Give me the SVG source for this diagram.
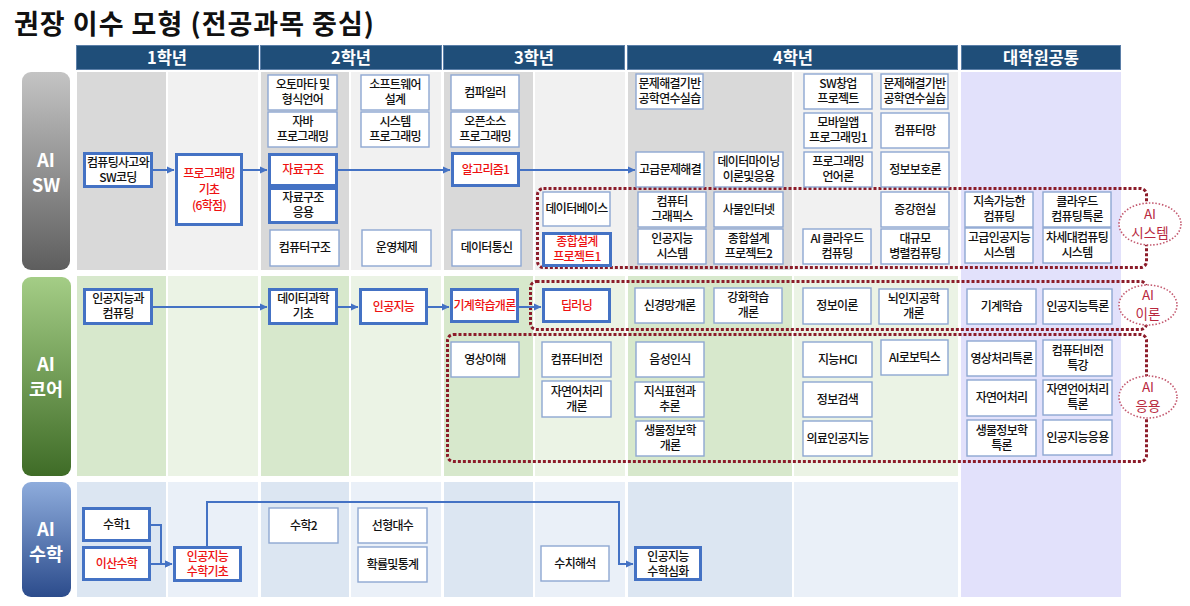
<svg xmlns="http://www.w3.org/2000/svg" width="1190" height="606" viewBox="0 0 1190 606">
<defs>
<linearGradient id="gSW" x1="0" y1="0" x2="0" y2="1"><stop offset="0" stop-color="#c4c4c4"/><stop offset="1" stop-color="#5e5e5e"/></linearGradient>
<linearGradient id="gCore" x1="0" y1="0" x2="0" y2="1"><stop offset="0" stop-color="#a4cd86"/><stop offset="1" stop-color="#3f6c27"/></linearGradient>
<linearGradient id="gMath" x1="0" y1="0" x2="0" y2="1"><stop offset="0" stop-color="#8eacdc"/><stop offset="1" stop-color="#2c4c8c"/></linearGradient>
<marker id="ah" markerWidth="8" markerHeight="8" refX="7" refY="4" orient="auto" markerUnits="userSpaceOnUse"><path d="M0,0.5 L7.5,4 L0,7.5 Z" fill="#4472c4"/></marker>
<style>
text{font-family:"Noto Sans CJK KR","Liberation Sans",sans-serif;}
.title{font-size:27px;font-weight:bold;fill:#111;letter-spacing:1px;}
.hd rect{fill:#1f4e79;stroke:#5b7fa8;stroke-width:1;}
.hd text{fill:#fff;font-size:16.5px;font-weight:bold;text-anchor:middle;}
.lab text{fill:#fff;font-size:18.5px;font-weight:bold;text-anchor:middle;}
.nd rect{fill:#fff;stroke:#8ea7d2;stroke-width:1.4;}
.nd.tk rect{stroke:#4472c4;stroke-width:3;}
.nd text{font-size:12px;font-weight:500;text-anchor:middle;fill:#111;letter-spacing:-0.7px;}
.nd.red text{fill:#ee1111;}
.cn path{fill:none;stroke:#4472c4;stroke-width:2;}
.grp rect{fill:none;stroke:#8c1c2a;stroke-width:3;stroke-dasharray:3 2;}
.grp ellipse{fill:#fff;stroke:#c45a70;stroke-width:1.6;stroke-dasharray:1.5 1.8;}
.grp text{fill:#b8283e;font-size:13.5px;text-anchor:middle;}
</style>
</defs>
<rect width="1190" height="606" fill="#fff"/>
<text class="title" x="14" y="34">권장 이수 모형 (전공과목 중심)</text>

<!-- backgrounds -->
<g id="bands">
<rect x="77" y="72" width="89" height="198" fill="#d9d9d9"/>
<rect x="168" y="72" width="90" height="198" fill="#f1f1f1"/>
<rect x="261" y="72" width="88" height="198" fill="#d9d9d9"/>
<rect x="351" y="72" width="90" height="198" fill="#f1f1f1"/>
<rect x="444" y="72" width="89" height="198" fill="#d9d9d9"/>
<rect x="535" y="72" width="90" height="198" fill="#f1f1f1"/>
<rect x="628" y="72" width="164" height="198" fill="#d9d9d9"/>
<rect x="794" y="72" width="164" height="198" fill="#f1f1f1"/>

<rect x="77" y="276" width="89" height="200" fill="#d7e8cc"/>
<rect x="168" y="276" width="90" height="200" fill="#ebf3e5"/>
<rect x="261" y="276" width="88" height="200" fill="#d7e8cc"/>
<rect x="351" y="276" width="90" height="200" fill="#ebf3e5"/>
<rect x="444" y="276" width="89" height="200" fill="#d7e8cc"/>
<rect x="535" y="276" width="90" height="200" fill="#ebf3e5"/>
<rect x="628" y="276" width="164" height="200" fill="#d7e8cc"/>
<rect x="794" y="276" width="164" height="200" fill="#ebf3e5"/>

<rect x="77" y="482" width="89" height="115" fill="#dce6f2"/>
<rect x="168" y="482" width="90" height="115" fill="#eaf0f8"/>
<rect x="261" y="482" width="88" height="115" fill="#dce6f2"/>
<rect x="351" y="482" width="90" height="115" fill="#eaf0f8"/>
<rect x="444" y="482" width="89" height="115" fill="#dce6f2"/>
<rect x="535" y="482" width="90" height="115" fill="#eaf0f8"/>
<rect x="628" y="482" width="164" height="115" fill="#dce6f2"/>
<rect x="794" y="482" width="164" height="115" fill="#eaf0f8"/>

<rect x="961" y="72" width="160" height="525" fill="#e2e1fb"/>
</g>

<!-- headers -->
<g id="header" class="hd">
<rect x="76.5" y="45.5" width="182" height="24"/><text x="167" y="63.5">1학년</text>
<rect x="260.5" y="45.5" width="181" height="24"/><text x="351" y="63.5">2학년</text>
<rect x="443.5" y="45.5" width="181" height="24"/><text x="534" y="63.5">3학년</text>
<rect x="627.5" y="45.5" width="330" height="24"/><text x="793" y="63.5">4학년</text>
<rect x="961.5" y="45.5" width="159" height="24"/><text x="1041" y="63.5">대학원공통</text>
</g>

<!-- row labels -->
<g id="lab-sw" class="lab"><rect x="22" y="72" width="48" height="198" rx="9" fill="url(#gSW)"/><text x="46" y="167">AI</text><text x="46" y="191.5">SW</text></g>
<g id="lab-core" class="lab"><rect x="22" y="277" width="49" height="199" rx="9" fill="url(#gCore)"/><text x="46" y="371">AI</text><text x="46" y="395.5">코어</text></g>
<g id="lab-math" class="lab"><rect x="22" y="482" width="49" height="115" rx="9" fill="url(#gMath)"/><text x="46" y="536">AI</text><text x="46" y="560.5">수학</text></g>

<!-- dotted groups -->
<g id="grp-sys" class="grp"><rect x="537.5" y="188.5" width="609" height="79" rx="6"/><ellipse cx="1150" cy="224" rx="31" ry="21"/><text x="1150" y="219">AI</text><text x="1150" y="237.5">시스템</text></g>
<g id="grp-theory" class="grp"><rect x="530.5" y="281.5" width="616" height="48" rx="6"/><ellipse cx="1148" cy="305" rx="29" ry="20"/><text x="1148" y="300">AI</text><text x="1148" y="318.5">이론</text></g>
<g id="grp-app" class="grp"><rect x="447.5" y="334.5" width="699" height="127" rx="6"/><ellipse cx="1148" cy="397" rx="29" ry="21"/><text x="1148" y="392">AI</text><text x="1148" y="410.5">응용</text></g>

<!-- connectors -->
<g id="connectors" class="cn">
<path d="M153,170 H174" marker-end="url(#ah)"/>
<path d="M243,170 H267" marker-end="url(#ah)"/>
<path d="M338,170 H450" marker-end="url(#ah)"/>
<path d="M520,170 H635" marker-end="url(#ah)"/>
<path d="M153,307 H267" marker-end="url(#ah)"/>
<path d="M338,307 H358" marker-end="url(#ah)"/>
<path d="M428,307 H449" marker-end="url(#ah)"/>
<path d="M519,307 H541" marker-end="url(#ah)"/>
<path d="M151,525 H161 V564 H172" stroke-width="1.6" marker-end="url(#ah)"/>
<path d="M151,564 H172" marker-end="url(#ah)"/>
<path d="M207,546 V502 H619 V564 H633" stroke-width="1.6" marker-end="url(#ah)"/>
</g>

<!-- AI SW nodes -->
<g id="n-ct" class="nd tk"><rect x="84.5" y="153.5" width="67" height="33"/><text><tspan x="118" y="166.5">컴퓨팅사고와</tspan><tspan x="118" y="181.5">SW코딩</tspan></text></g>
<g id="n-prog" class="nd tk red"><rect x="176.5" y="154.5" width="65" height="70"/><text><tspan x="209" y="178">프로그래밍</tspan><tspan x="209" y="194">기초</tspan><tspan x="209" y="210">(6학점)</tspan></text></g>
<g id="n-auto" class="nd"><rect x="268" y="75" width="69" height="35"/><text><tspan x="302.5" y="89">오토마타 및</tspan><tspan x="302.5" y="104">형식언어</tspan></text></g>
<g id="n-java" class="nd"><rect x="268" y="112" width="69" height="35"/><text><tspan x="302.5" y="126">자바</tspan><tspan x="302.5" y="141">프로그래밍</tspan></text></g>
<g id="n-ds" class="nd tk red"><rect x="269.5" y="154.5" width="67" height="31"/><text x="303" y="174">자료구조</text></g>
<g id="n-dsapp" class="nd tk"><rect x="269.5" y="188.5" width="67" height="34"/><text><tspan x="303" y="202">자료구조</tspan><tspan x="303" y="217">응용</tspan></text></g>
<g id="n-arch" class="nd"><rect x="270" y="230" width="69" height="36"/><text x="304.5" y="252">컴퓨터구조</text></g>
<g id="n-swd" class="nd"><rect x="361" y="75" width="68" height="35"/><text><tspan x="395" y="89">소프트웨어</tspan><tspan x="395" y="104">설계</tspan></text></g>
<g id="n-sysp" class="nd"><rect x="361" y="112" width="68" height="35"/><text><tspan x="395" y="126">시스템</tspan><tspan x="395" y="141">프로그래밍</tspan></text></g>
<g id="n-os" class="nd"><rect x="362" y="230" width="69" height="36"/><text x="396.5" y="252">운영체제</text></g>
<g id="n-comp" class="nd"><rect x="451" y="75" width="68" height="35"/><text x="485" y="96.5">컴파일러</text></g>
<g id="n-oss" class="nd"><rect x="451" y="112" width="68" height="35"/><text><tspan x="485" y="126">오픈소스</tspan><tspan x="485" y="141">프로그래밍</tspan></text></g>
<g id="n-algo" class="nd tk red"><rect x="452.5" y="153.5" width="66" height="32"/><text x="485.5" y="174">알고리즘1</text></g>
<g id="n-dc" class="nd"><rect x="452" y="230" width="69" height="36"/><text x="486.5" y="252">데이터통신</text></g>
<g id="n-db" class="nd"><rect x="543" y="192" width="67" height="34"/><text x="576.5" y="213">데이터베이스</text></g>
<g id="n-cap1" class="nd tk red"><rect x="543.5" y="233.5" width="67" height="32"/><text><tspan x="577" y="246">종합설계</tspan><tspan x="577" y="261">프로젝트1</tspan></text></g>
<g id="n-pbl1" class="nd"><rect x="636" y="74" width="67" height="35"/><text><tspan x="669.5" y="88">문제해결기반</tspan><tspan x="669.5" y="103">공학연수실습</tspan></text></g>
<g id="n-adv" class="nd"><rect x="636" y="152" width="68" height="35"/><text x="670" y="173.5">고급문제해결</text></g>
<g id="n-dm" class="nd"><rect x="714" y="152" width="69" height="35"/><text><tspan x="748.5" y="166">데이터마이닝</tspan><tspan x="748.5" y="181">이론및응용</tspan></text></g>
<g id="n-cg" class="nd"><rect x="638" y="192" width="68" height="35"/><text><tspan x="672" y="206">컴퓨터</tspan><tspan x="672" y="221">그래픽스</tspan></text></g>
<g id="n-iot" class="nd"><rect x="714" y="192" width="69" height="35"/><text x="748.5" y="213.5">사물인터넷</text></g>
<g id="n-ais" class="nd"><rect x="638" y="229" width="68" height="35"/><text><tspan x="672" y="243">인공지능</tspan><tspan x="672" y="258">시스템</tspan></text></g>
<g id="n-cap2" class="nd"><rect x="714" y="229" width="69" height="35"/><text><tspan x="748.5" y="243">종합설계</tspan><tspan x="748.5" y="258">프로젝트2</tspan></text></g>
<g id="n-startup" class="nd"><rect x="804" y="74" width="68" height="35"/><text><tspan x="838" y="88">SW창업</tspan><tspan x="838" y="103">프로젝트</tspan></text></g>
<g id="n-pbl2" class="nd"><rect x="881" y="74" width="67" height="35"/><text><tspan x="914.5" y="88">문제해결기반</tspan><tspan x="914.5" y="103">공학연수실습</tspan></text></g>
<g id="n-mob" class="nd"><rect x="804" y="113" width="68" height="35"/><text><tspan x="838" y="127">모바일앱</tspan><tspan x="838" y="142">프로그래밍1</tspan></text></g>
<g id="n-net" class="nd"><rect x="881" y="113" width="68" height="35"/><text x="915" y="134.5">컴퓨터망</text></g>
<g id="n-pl" class="nd"><rect x="804" y="152" width="68" height="35"/><text><tspan x="838" y="166">프로그래밍</tspan><tspan x="838" y="181">언어론</tspan></text></g>
<g id="n-sec" class="nd"><rect x="881" y="152" width="68" height="35"/><text x="915" y="173.5">정보보호론</text></g>
<g id="n-ar" class="nd"><rect x="881" y="192" width="68" height="35"/><text x="915" y="213.5">증강현실</text></g>
<g id="n-aicloud" class="nd"><rect x="803" y="229" width="68" height="35"/><text><tspan x="837" y="243">AI 클라우드</tspan><tspan x="837" y="258">컴퓨팅</tspan></text></g>
<g id="n-par" class="nd"><rect x="881" y="229" width="68" height="35"/><text><tspan x="915" y="243">대규모</tspan><tspan x="915" y="258">병렬컴퓨팅</tspan></text></g>
<g id="n-sust" class="nd"><rect x="965" y="192" width="68" height="35"/><text><tspan x="999" y="206">지속가능한</tspan><tspan x="999" y="221">컴퓨팅</tspan></text></g>
<g id="n-cloud" class="nd"><rect x="1043" y="192" width="68" height="35"/><text><tspan x="1077" y="206">클라우드</tspan><tspan x="1077" y="221">컴퓨팅특론</tspan></text></g>
<g id="n-advai" class="nd"><rect x="965" y="228" width="68" height="35"/><text><tspan x="999" y="242">고급인공지능</tspan><tspan x="999" y="257">시스템</tspan></text></g>
<g id="n-next" class="nd"><rect x="1043" y="228" width="68" height="35"/><text><tspan x="1077" y="242">차세대컴퓨팅</tspan><tspan x="1077" y="257">시스템</tspan></text></g>

<!-- AI core nodes -->
<g id="n-aic" class="nd tk"><rect x="84.5" y="289.5" width="67" height="34"/><text><tspan x="118" y="303">인공지능과</tspan><tspan x="118" y="318">컴퓨팅</tspan></text></g>
<g id="n-dsci" class="nd tk"><rect x="269.5" y="289.5" width="67" height="34"/><text><tspan x="303" y="303">데이터과학</tspan><tspan x="303" y="318">기초</tspan></text></g>
<g id="n-ai" class="nd tk red"><rect x="360.5" y="289.5" width="66" height="34"/><text x="393.5" y="310.5">인공지능</text></g>
<g id="n-ml" class="nd tk red"><rect x="451.5" y="289.5" width="66" height="32"/><text x="484.5" y="309.5">기계학습개론</text></g>
<g id="n-dl" class="nd tk red"><rect x="543.5" y="289.5" width="66" height="32"/><text x="576.5" y="309.5">딥러닝</text></g>
<g id="n-nn" class="nd"><rect x="635" y="288" width="69" height="35"/><text x="669.5" y="309.5">신경망개론</text></g>
<g id="n-rl" class="nd"><rect x="714" y="288" width="68" height="35"/><text><tspan x="748" y="302">강화학습</tspan><tspan x="748" y="317">개론</tspan></text></g>
<g id="n-it" class="nd"><rect x="803" y="288" width="68" height="36"/><text x="837" y="310">정보이론</text></g>
<g id="n-brain" class="nd"><rect x="879" y="289" width="69" height="35"/><text><tspan x="913.5" y="303">뇌인지공학</tspan><tspan x="913.5" y="318">개론</tspan></text></g>
<g id="n-gml" class="nd"><rect x="967" y="289" width="69" height="35"/><text x="1001.5" y="310.5">기계학습</text></g>
<g id="n-gai" class="nd"><rect x="1043" y="289" width="69" height="35"/><text x="1077.5" y="310.5">인공지능특론</text></g>
<g id="n-img" class="nd"><rect x="451" y="342" width="68" height="35"/><text x="485" y="363.5">영상이해</text></g>
<g id="n-cv" class="nd"><rect x="542" y="342" width="69" height="35"/><text x="576.5" y="363.5">컴퓨터비전</text></g>
<g id="n-nlp" class="nd"><rect x="542" y="381" width="69" height="36"/><text><tspan x="576.5" y="395.5">자연어처리</tspan><tspan x="576.5" y="410.5">개론</tspan></text></g>
<g id="n-sr" class="nd"><rect x="636" y="342" width="68" height="35"/><text x="670" y="363.5">음성인식</text></g>
<g id="n-kr" class="nd"><rect x="635" y="382" width="69" height="35"/><text><tspan x="669.5" y="396">지식표현과</tspan><tspan x="669.5" y="411">추론</tspan></text></g>
<g id="n-bio" class="nd"><rect x="636" y="421" width="68" height="35"/><text><tspan x="670" y="435">생물정보학</tspan><tspan x="670" y="450">개론</tspan></text></g>
<g id="n-hci" class="nd"><rect x="803" y="342" width="69" height="35"/><text x="837.5" y="363.5">지능HCI</text></g>
<g id="n-ir" class="nd"><rect x="803" y="382" width="69" height="35"/><text x="837.5" y="403.5">정보검색</text></g>
<g id="n-med" class="nd"><rect x="803" y="421" width="69" height="35"/><text x="837.5" y="442.5">의료인공지능</text></g>
<g id="n-rob" class="nd"><rect x="881" y="340" width="67" height="35"/><text x="914.5" y="361.5">AI로보틱스</text></g>
<g id="n-gip" class="nd"><rect x="967" y="341" width="69" height="35"/><text x="1001.5" y="362.5">영상처리특론</text></g>
<g id="n-gcv" class="nd"><rect x="1043" y="340" width="69" height="36"/><text><tspan x="1077.5" y="354.5">컴퓨터비전</tspan><tspan x="1077.5" y="369.5">특강</tspan></text></g>
<g id="n-gnlp" class="nd"><rect x="967" y="380" width="69" height="36"/><text x="1001.5" y="402">자연어처리</text></g>
<g id="n-gnlp2" class="nd"><rect x="1043" y="380" width="69" height="35"/><text><tspan x="1077.5" y="394">자연언어처리</tspan><tspan x="1077.5" y="409">특론</tspan></text></g>
<g id="n-gbio" class="nd"><rect x="967" y="420" width="69" height="36"/><text><tspan x="1001.5" y="434.5">생물정보학</tspan><tspan x="1001.5" y="449.5">특론</tspan></text></g>
<g id="n-gaiapp" class="nd"><rect x="1043" y="420" width="69" height="35"/><text x="1077.5" y="441.5">인공지능응용</text></g>

<!-- AI math nodes -->
<g id="n-m1" class="nd tk"><rect x="83.5" y="508.5" width="66" height="32"/><text x="116.5" y="528.5">수학1</text></g>
<g id="n-disc" class="nd tk red"><rect x="83.5" y="547.5" width="66" height="32"/><text x="116.5" y="567.5">이산수학</text></g>
<g id="n-aim" class="nd tk red"><rect x="174.5" y="547.5" width="66" height="33"/><text><tspan x="207.5" y="561">인공지능</tspan><tspan x="207.5" y="576">수학기초</tspan></text></g>
<g id="n-m2" class="nd"><rect x="269" y="508" width="69" height="35"/><text x="303.5" y="529.5">수학2</text></g>
<g id="n-la" class="nd"><rect x="358" y="508" width="69" height="35"/><text x="392.5" y="529.5">선형대수</text></g>
<g id="n-ps" class="nd"><rect x="358" y="547" width="69" height="35"/><text x="392.5" y="568.5">확률및통계</text></g>
<g id="n-na" class="nd"><rect x="541" y="546" width="68" height="35"/><text x="575" y="567.5">수치해석</text></g>
<g id="n-aim2" class="nd tk"><rect x="635.5" y="547.5" width="65" height="32"/><text><tspan x="668" y="561">인공지능</tspan><tspan x="668" y="576">수학심화</tspan></text></g>
</svg>
